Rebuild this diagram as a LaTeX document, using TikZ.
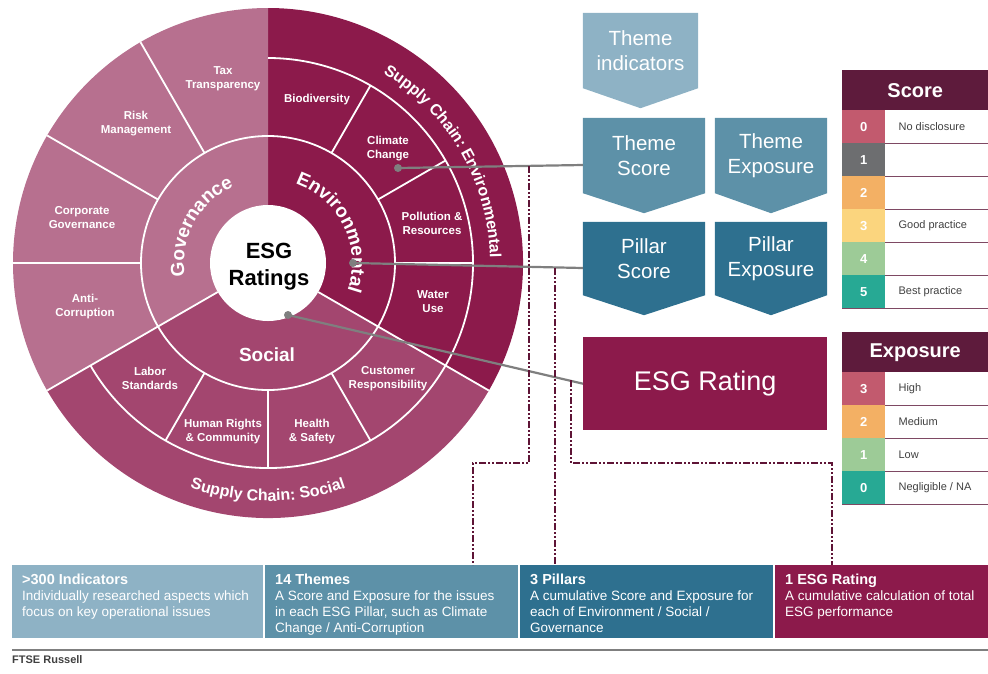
\documentclass[tikz,border=0pt]{standalone}
\usepackage{fontspec}
\setmainfont{Liberation Sans}
\usepackage{tikz}
\usetikzlibrary{calc,positioning,decorations.text,backgrounds}

\definecolor{govcol}{HTML}{B7708F}
\definecolor{soccol}{HTML}{A3466F}
\definecolor{envcol}{HTML}{8C1A4B}
\definecolor{indcol}{HTML}{8EB2C5}
\definecolor{themecol}{HTML}{5D91A8}
\definecolor{pillarcol}{HTML}{2E708F}
\definecolor{headcol}{HTML}{5E1B3C}
\definecolor{linkcol}{HTML}{7F7F7F}
\definecolor{tracecol}{HTML}{5E1436}
\definecolor{labcol}{HTML}{404040}
\definecolor{sczero}{HTML}{C25A6E}
\definecolor{scone}{HTML}{6D6E70}
\definecolor{sctwo}{HTML}{F3B064}
\definecolor{scthree}{HTML}{FBD57E}
\definecolor{scfour}{HTML}{9DCB97}
\definecolor{scfive}{HTML}{27A994}

\newcommand{\pillarfont}{\bfseries\fontsize{19}{23}\selectfont}
\newcommand{\ringfont}{\bfseries\fontsize{16}{19}\selectfont}
\newcommand{\striptitle}[1]{{\bfseries\fontsize{14.5}{16}\selectfont #1}}

\tikzset{
	wsep/.style={white, line width=1.8pt},
	themelabel/.style={text=white, align=center, inner sep=0, font=\bfseries\fontsize{11.5}{14}\selectfont},
	chev/.style={minimum width=122, minimum height=75, inner sep=0, text=white, align=center, font=\fontsize{20.5}{25}\selectfont},
	linkdot/.style={circle, fill=linkcol, inner sep=0, minimum size=8},
	link/.style={linkcol, line width=2.2pt},
	trace/.style={tracecol, line width=2.4pt, dash pattern=on 7pt off 2pt on 2pt off 2pt on 2pt off 2pt},
	tablehead/.style={fill=headcol, text=white, minimum width=146, minimum height=40, inner sep=0, anchor=north west, font=\bfseries\fontsize{20}{24}\selectfont},
	numcell/.style={minimum width=43, minimum height=33, inner sep=0, anchor=north west, text=white, font=\bfseries\fontsize{13}{15}\selectfont},
	labcell/.style={anchor=west, inner sep=0, text=labcol, font=\fontsize{11}{13}\selectfont},
	rowline/.style={headcol!80, line width=1pt},
	stripbox/.style={minimum height=73, inner sep=0, anchor=north west},
	striptext/.style={anchor=north west, inner sep=0, align=left, text=white, font=\fontsize{13.5}{16}\selectfont},
}

\begin{document}
\begin{tikzpicture}[x=1pt,y=1pt]
	\useasboundingbox (0,0) rectangle (988,-673);

	\begin{scope}[shift={(268,-263)}]
		\fill[envcol] (0,0) -- (-30:255) arc[start angle=-30, end angle=90, radius=255] -- cycle;
		\fill[govcol] (0,0) -- (90:255) arc[start angle=90, end angle=210, radius=255] -- cycle;
		\fill[soccol] (0,0) -- (210:255) arc[start angle=210, end angle=330, radius=255] -- cycle;
		\draw[wsep] (0,0) circle[radius=127];
		\draw[wsep] (-30:205) arc[start angle=-30, end angle=90, radius=205];
		\draw[wsep] (210:205) arc[start angle=210, end angle=330, radius=205];
		\foreach \a in {210,330}
			\draw[wsep] (\a:58) -- (\a:255);
		\foreach \a in {120,150,180}
			\draw[wsep] (\a:127) -- (\a:255);
		\foreach \a in {0,30,60,240,270,300}
			\draw[wsep] (\a:127) -- (\a:205);
		\fill[white] (0,0) circle[radius=58];

		\path[decorate, decoration={text along path, text align=center, text color=white, text={|\pillarfont|Governance}}]
			(221.5:84) arc[start angle=221.5, end angle=81.5, radius=84];
		\path[decorate, decoration={text along path, text align=center, text color=white, text={|\pillarfont|Environmental}}]
			(101:84) arc[start angle=101, end angle=-49, radius=84];
		\path[decorate, decoration={text along path, text align=center, text color=white, text={|\ringfont|Supply Chain: Environmental}}]
			(100:222) arc[start angle=100, end angle=-40, radius=222];
		\path[decorate, decoration={text along path, text align=center, text color=white, text={|\ringfont|Supply Chain: Social}}]
			(200:238) arc[start angle=200, end angle=340, radius=238];
	\end{scope}

	\node[font=\bfseries\fontsize{22}{27}\selectfont, align=center, inner sep=0] (esg) at (269,-267) {ESG\\Ratings};
	\node[text=white, font=\pillarfont, inner sep=0] (social) at (267,-355) {Social};

	\node[themelabel] (tax) at (223,-79) {Tax\\Transparency};
	\node[themelabel] (risk) at (136,-124) {Risk\\Management};
	\node[themelabel] (corpgov) at (82,-218) {Corporate\\Governance};
	\node[themelabel] (anticorr) at (85,-307) {Anti-\\Corruption};
	\node[themelabel] (biodiv) at (317,-100) {Biodiversity};
	\node[themelabel] (climate) at (388,-149) {Climate\\Change};
	\node[themelabel] (pollution) at (432,-223) {Pollution \&\\Resources};
	\node[themelabel] (water) at (433,-302) {Water\\Use};
	\node[themelabel] (labor) at (150,-378) {Labor\\Standards};
	\node[themelabel] (human) at (223,-432) {Human Rights\\\& Community};
	\node[themelabel] (health) at (312,-432) {Health\\\& Safety};
	\node[themelabel] (customer) at (388,-379) {Customer\\Responsibility};

	\node[chev, minimum width=115] (tind) at (640.5,-50.5) {Theme\\indicators};
	\node[chev] (tscore) at (644,-155.5) {Theme\\Score};
	\node[chev, minimum width=112] (texpo) at (771,-155.5) {Theme\\Exposure};
	\node[chev, minimum height=73] (pscore) at (644,-258.5) {Pillar\\Score};
	\node[chev, minimum width=112, minimum height=73] (pexpo) at (771,-258.5) {Pillar\\Exposure};
	\node[fill=envcol, minimum width=244, minimum height=93, inner sep=0, anchor=north west, text=white, font=\fontsize{27}{30}\selectfont] (ratingbox) at (583,-337) {ESG Rating};

	\begin{scope}[on background layer]
		\foreach \n/\c in {tind/indcol,tscore/themecol,texpo/themecol,pscore/pillarcol,pexpo/pillarcol}
			\fill[\c] (\n.north west) -- (\n.north east) -- (\n.south east) -- ([yshift=-20]\n.south) -- (\n.south west) -- cycle;
	\end{scope}

	\node[stripbox, fill=indcol, minimum width=251] (indbox) at (12,-565) {};
	\node[stripbox, fill=themecol, minimum width=253] (themesbox) at (265,-565) {};
	\node[stripbox, fill=pillarcol, minimum width=253] (pillarsbox) at (520,-565) {};
	\node[stripbox, fill=envcol, minimum width=213] (onebox) at (775,-565) {};
	\node[striptext] (indtxt) at ([xshift=10,yshift=-8.5]indbox.north west) {\striptitle{>300 Indicators}\\Individually researched aspects which\\focus on key operational issues};
	\node[striptext] (themestxt) at ([xshift=10,yshift=-8.5]themesbox.north west) {\striptitle{14 Themes}\\A Score and Exposure for the issues\\in each ESG Pillar, such as Climate\\Change / Anti-Corruption};
	\node[striptext] (pillarstxt) at ([xshift=10,yshift=-8.5]pillarsbox.north west) {\striptitle{3 Pillars}\\A cumulative Score and Exposure for\\each of Environment / Social /\\Governance};
	\node[striptext] (onetxt) at ([xshift=10,yshift=-8.5]onebox.north west) {\striptitle{1 ESG Rating}\\A cumulative calculation of total\\ESG performance};

	\node[linkdot] (d1) at (398,-168) {};
	\node[linkdot] (d2) at (353,-263) {};
	\node[linkdot] (d3) at (288,-315) {};
	\draw[link] (d1.center) -- ([yshift=-9.5]tscore.west);
	\draw[link] (d2.center) -- ([yshift=-9.5]pscore.west);
	\draw[link] (d3.center) -- (ratingbox.west);

	\coordinate (ta) at (529,-166);
	\coordinate (pb) at (555,-268);
	\coordinate (rc) at (571,-380);
	\draw[trace] (ta) |- (473,-463) -- (473,0 |- themesbox.north);
	\draw[trace] (pb) -- (pb |- pillarsbox.north);
	\draw[trace] (rc) |- (832,-463) -- (832,0 |- onebox.north);

	\node[tablehead] (scorehead) at (842,-70) {Score};
	\foreach \n/\i/\c/\t in {0/0/sczero/No disclosure,1/1/scone/{},2/2/sctwo/{},3/3/scthree/Good practice,4/4/scfour/{},5/5/scfive/Best practice}{
		\node[numcell, fill=\c] (s\n) at (842,{-110-33*\n}) {\i};
		\node[labcell] (sl\n) at ([xshift=13]s\n.east) {\t};
		\draw[rowline] (s\n.south west) -- (988,0 |- s\n.south);
	}

	\node[tablehead] (expohead) at (842,-332) {Exposure};
	\foreach \n/\i/\c/\t in {0/3/sczero/High,1/2/sctwo/Medium,2/1/scfour/Low,3/0/scfive/{Negligible / NA}}{
		\node[numcell, fill=\c] (e\n) at (842,{-372-33*\n}) {\i};
		\node[labcell] (el\n) at ([xshift=13]e\n.east) {\t};
		\draw[rowline] (e\n.south west) -- (988,0 |- e\n.south);
	}

	\draw[linkcol, line width=1.5pt] (12,-650) -- (988,-650);
	\node[anchor=base west, inner sep=0, text=labcol, font=\bfseries\fontsize{11}{13}\selectfont] (ftse) at (12,-663) {FTSE Russell};
\end{tikzpicture}
\end{document}
